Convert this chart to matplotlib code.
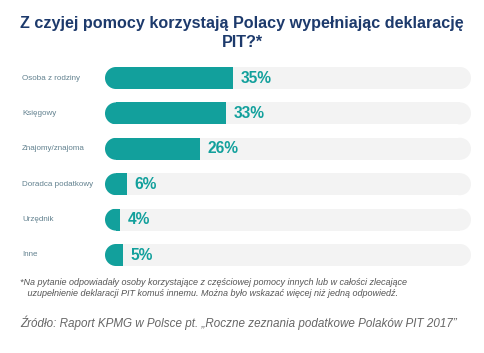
import matplotlib
matplotlib.use("Agg")
import matplotlib.pyplot as plt
from matplotlib.patches import Ellipse, Rectangle
import matplotlib.transforms as mtransforms

plt.rcParams['font.family'] = ['Liberation Sans', 'DejaVu Sans']

categories = ["Osoba z rodziny", "Księgowy", "Znajomy/znajoma",
              "Doradca podatkowy", "Urzędnik", "Inne"]
values = [35, 33, 26, 6, 4, 5]
value_labels = ["35%", "33%", "26%", "6%", "4%", "5%"]
full_scale = 100

title = "Z czyjej pomocy korzystają Polacy wypełniając deklarację\nPIT?*"
footnote = ("*Na pytanie odpowiadały osoby korzystające z częściowej pomocy innych lub w całości zlecające\n"
            "   uzupełnienie deklaracji PIT komuś innemu. Można było wskazać więcej niż jedną odpowiedź.")
source = "Źródło: Raport KPMG w Polsce pt. „Roczne zeznania podatkowe Polaków PIT 2017”"

W, H = 484, 353
fig = plt.figure(figsize=(W / 100, H / 100), dpi=100)
fig.patch.set_facecolor("white")

teal = "#12a09c"
grey_band = "#f3f3f3"
navy = "#1d3a6c"

ax_left, ax_right = 105, 471
top_px, bot_px = 60.3, 272.7
ax = fig.add_axes([ax_left / W, 1 - bot_px / H, (ax_right - ax_left) / W, (bot_px - top_px) / H])
ax.set_xlim(0, full_scale)
ax.set_ylim(len(categories) - 0.5, -0.5)
ax.axis("off")

bar_h_px = 22
px_per_x = (ax_right - ax_left) / full_scale
px_per_y = (bot_px - top_px) / len(categories)
r = (bar_h_px / 2) / px_per_x
bh = bar_h_px / px_per_y

for i, (v, lab) in enumerate(zip(values, value_labels)):
    # background band, rounded both ends
    ax.barh(i, full_scale - 2 * r, left=r, height=bh, color=grey_band, lw=0, zorder=1)
    ax.add_patch(Ellipse((r, i), 2 * r, bh, color=grey_band, lw=0, zorder=1))
    ax.add_patch(Ellipse((full_scale - r, i), 2 * r, bh, color=grey_band, lw=0, zorder=1))
    # teal bar, rounded left end only
    ax.barh(i, v - r, left=r, height=bh, color=teal, lw=0, zorder=2)
    cap = Ellipse((r, i), 2 * r, bh, color=teal, lw=0, zorder=2)
    ax.add_patch(cap)
    clip = Rectangle((0, i - bh / 2), r, bh, transform=ax.transData)
    cap.set_clip_path(clip)
    ax.annotate(lab, (v, i), xytext=(5.5, 0), textcoords="offset points",
                ha="left", va="center", fontsize=11.2, fontweight="bold", color=teal, zorder=3)

trans = mtransforms.blended_transform_factory(fig.transFigure, ax.transData)
for i, c in enumerate(categories):
    ax.text(22 / W, i, c, transform=trans, ha="left", va="center",
            fontsize=5.8, color="#62818f")

fig.text(0.5, 1 - 33 / H, title, ha="center", va="center", fontsize=11.6,
         fontweight="bold", color=navy, linespacing=1.3)
fig.text(20 / W, 1 - 288 / H, footnote, ha="left", va="center", fontsize=6.5,
         style="italic", color="#555555", linespacing=1.25)
fig.text(20 / W, 1 - 323 / H, source, ha="left", va="center", fontsize=8.4,
         style="italic", color="#666666")

fig.savefig("out.png", dpi=100, facecolor="white")
